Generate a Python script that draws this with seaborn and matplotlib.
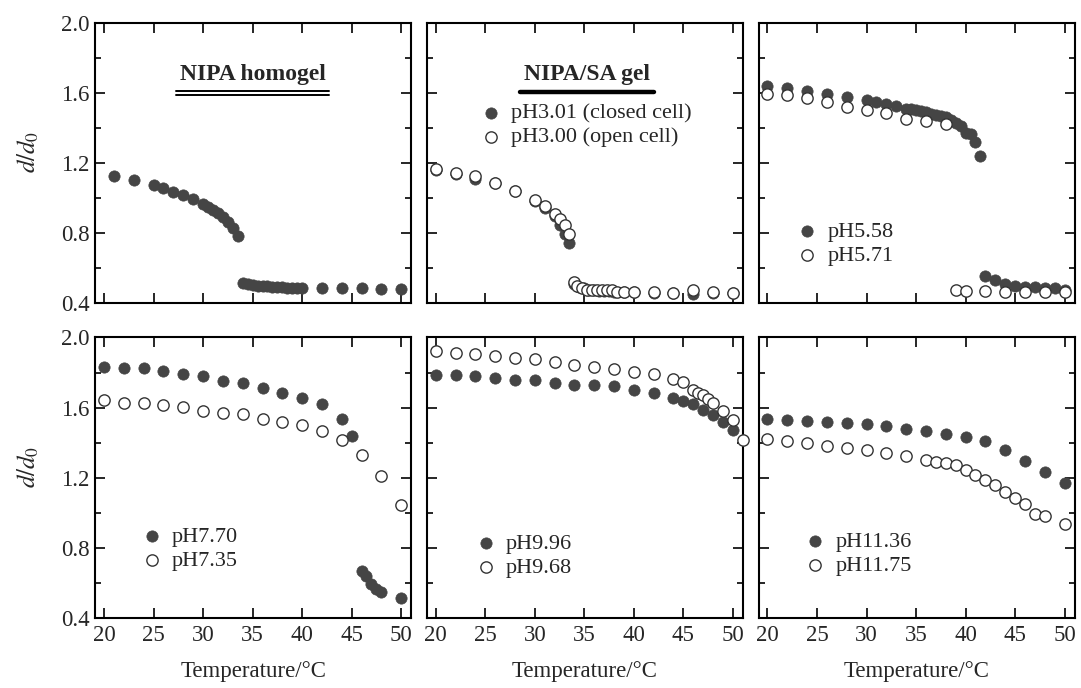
import matplotlib
matplotlib.use('Agg')
import matplotlib.pyplot as plt
import seaborn as sns
from matplotlib.ticker import MultipleLocator, FormatStrFormatter

# NIPA homogel
homo_T = [21, 23, 25, 26, 27, 28, 29, 30, 30.5, 31, 31.5, 32, 32.5, 33, 33.5,
          34, 34.5, 35, 35.5, 36, 36.5, 37, 37.5, 38, 38.5, 39, 39.5, 40,
          42, 44, 46, 48, 50]
homo_d = [1.126, 1.101, 1.072, 1.057, 1.034, 1.019, 0.992, 0.968,
          0.950, 0.932, 0.912, 0.890, 0.862, 0.830, 0.785,
          0.515, 0.508, 0.504, 0.500, 0.498, 0.496, 0.494, 0.492, 0.490, 0.489, 0.488, 0.487, 0.487,
          0.486, 0.485, 0.485, 0.484, 0.480]

# NIPA/SA gel, pH 3
ph301_T = [20, 22, 24, 26, 28, 30, 31, 32, 32.5, 33, 33.5,
           34, 34.5, 35, 35.5, 36, 36.5, 37, 37.5, 38,
           39, 40, 42, 44, 46, 48, 50]
ph301_d = [1.160, 1.135, 1.110, 1.085, 1.040, 0.983, 0.945, 0.895, 0.844, 0.796, 0.745,
           0.510, 0.495, 0.485, 0.478, 0.474, 0.472, 0.470, 0.468, 0.465,
           0.463, 0.462, 0.460, 0.458, 0.452, 0.458, 0.458]
ph300_T = [20, 22, 24, 26, 28, 30, 31, 32, 32.5, 33, 33.5,
           34, 34.25, 34.75, 35.25, 35.75, 36.25, 36.75, 37.25, 37.75, 38.25,
           39, 40, 42, 44, 46, 48, 50]
ph300_d = [1.168, 1.145, 1.126, 1.088, 1.040, 0.987, 0.952, 0.910, 0.880, 0.844, 0.796,
           0.520, 0.501, 0.488, 0.476, 0.473, 0.473, 0.476, 0.476, 0.473, 0.463,
           0.465, 0.465, 0.463, 0.457, 0.476, 0.463, 0.457]

# pH 5.6
ph558_T = [20, 22, 24, 26, 28, 30, 31, 32, 33, 34,
           34.5, 35, 35.5, 36, 36.5, 37, 37.5, 38, 38.5, 39, 39.5, 40, 40.5, 41, 41.5,
           42, 43, 44, 45, 46, 47, 48, 49, 50]
ph558_d = [1.640, 1.625, 1.610, 1.592, 1.577, 1.558, 1.550, 1.535, 1.526, 1.510,
           1.507, 1.500, 1.495, 1.488, 1.482, 1.476, 1.470, 1.460, 1.445, 1.430, 1.410, 1.370, 1.368, 1.320, 1.240,
           0.554, 0.533, 0.510, 0.500, 0.495, 0.495, 0.488, 0.486, 0.476]
ph571_T = [20, 22, 24, 26, 28, 30, 32, 34, 36, 38, 39, 40, 42, 44, 46, 48, 50]
ph571_d = [1.596, 1.587, 1.568, 1.545, 1.520, 1.500, 1.486, 1.453, 1.438, 1.421,
           0.476, 0.472, 0.469, 0.467, 0.463, 0.463, 0.463]

# pH 7.5
ph770_T = [20, 22, 24, 26, 28, 30, 32, 34, 36, 38, 40, 42, 44, 45,
           46, 46.5, 47, 47.5, 48, 50]
ph770_d = [1.832, 1.827, 1.827, 1.810, 1.794, 1.779, 1.752, 1.741, 1.714, 1.684, 1.657, 1.623, 1.537, 1.436,
           0.670, 0.642, 0.594, 0.566, 0.550, 0.514]
ph735_T = [20, 22, 24, 26, 28, 30, 32, 34, 36, 38, 40, 42, 44, 46, 48, 50]
ph735_d = [1.642, 1.629, 1.627, 1.617, 1.604, 1.581, 1.571, 1.562, 1.533, 1.518, 1.499, 1.467,
           1.417, 1.328, 1.210, 1.042]

# pH 9.8
ph996_T = [20, 22, 24, 26, 28, 30, 32, 34, 36, 38, 40, 42, 44, 45, 46, 47, 48, 49, 50]
ph996_d = [1.785, 1.785, 1.779, 1.771, 1.756, 1.756, 1.743, 1.731, 1.728, 1.722, 1.700, 1.686,
           1.657, 1.638, 1.619, 1.589, 1.560, 1.518, 1.470]
ph968_T = [20, 22, 24, 26, 28, 30, 32, 34, 36, 38, 40, 42, 44,
           45, 46, 46.5, 47, 47.5, 48, 49, 50, 51]
ph968_d = [1.922, 1.909, 1.903, 1.893, 1.884, 1.880, 1.861, 1.842, 1.829, 1.823, 1.804, 1.790, 1.762,
           1.747, 1.700, 1.686, 1.670, 1.651, 1.629, 1.579, 1.528, 1.413]

# pH 11.5
ph1136_T = [20, 22, 24, 26, 28, 30, 32, 34, 36, 38, 40, 42, 44, 46, 48, 50]
ph1136_d = [1.537, 1.528, 1.524, 1.518, 1.514, 1.505, 1.495, 1.476, 1.467, 1.451, 1.432, 1.408,
            1.360, 1.293, 1.232, 1.170]
ph1175_T = [20, 22, 24, 26, 28, 30, 32, 34, 36,
            37, 38, 39, 40, 41, 42, 43, 44, 45, 46, 47, 48, 50]
ph1175_d = [1.419, 1.408, 1.398, 1.381, 1.371, 1.356, 1.341, 1.324, 1.303,
            1.290, 1.286, 1.270, 1.242, 1.213, 1.185, 1.156, 1.118, 1.084, 1.048, 0.994, 0.981, 0.937]

sns.set_style('ticks')
plt.rcParams['font.family'] = ['Liberation Serif', 'DejaVu Serif']
plt.rcParams['mathtext.fontset'] = 'stix'

FILL = '#454545'
EDGE = '#333333'

fig, axes = plt.subplots(2, 3, figsize=(10.81, 6.88), dpi=100)
fig.subplots_adjust(left=0.088, right=0.994, top=0.967, bottom=0.1017,
                    wspace=0.05, hspace=0.122)

# (filled series, open series, legend anchor) per panel
panels = [
    ((homo_T, homo_d, None), None, None),
    ((ph301_T, ph301_d, 'pH3.01 (closed cell)'), (ph300_T, ph300_d, 'pH3.00 (open cell)'), (0.167, 0.714)),
    ((ph558_T, ph558_d, 'pH5.58'), (ph571_T, ph571_d, 'pH5.71'), (0.119, 0.292)),
    ((ph770_T, ph770_d, 'pH7.70'), (ph735_T, ph735_d, 'pH7.35'), (0.145, 0.327)),
    ((ph996_T, ph996_d, 'pH9.96'), (ph968_T, ph968_d, 'pH9.68'), (0.151, 0.302)),
    ((ph1136_T, ph1136_d, 'pH11.36'), (ph1175_T, ph1175_d, 'pH11.75'), (0.144, 0.310)),
]

for i, (ax, (filled, opened, anchor)) in enumerate(zip(axes.flat, panels)):
    sns.scatterplot(x=filled[0], y=filled[1], ax=ax, s=66, color=FILL, edgecolor=FILL,
                    linewidth=0.5, label=filled[2], clip_on=False, zorder=3)
    if opened is not None:
        sns.scatterplot(x=opened[0], y=opened[1], ax=ax, s=66, facecolor='white',
                        edgecolor=EDGE, linewidth=1.0, label=opened[2], clip_on=False, zorder=4)

    ax.set_xlim(19.1, 51.0)
    ax.set_ylim(0.4, 2.0)
    ax.xaxis.set_major_locator(MultipleLocator(5))
    ax.yaxis.set_major_locator(MultipleLocator(0.4))
    ax.yaxis.set_minor_locator(MultipleLocator(0.2))
    ax.yaxis.set_major_formatter(FormatStrFormatter('%.1f'))
    ax.tick_params(which='both', direction='in', top=True, right=True, width=1.4,
                   labelsize=16.5)
    ax.tick_params(which='major', length=7)
    ax.tick_params(which='minor', length=4)
    ax.tick_params(axis='x', pad=5)
    ax.tick_params(axis='y', pad=4)
    for sp in ax.spines.values():
        sp.set_linewidth(1.5)
        sp.set_color('black')

    row, col = divmod(i, 3)
    if col == 0:
        ax.set_ylabel('$d/d_0$', fontsize=18)
        ax.yaxis.set_label_coords(-0.17, 0.54)
    else:
        ax.tick_params(labelleft=False)
    if row == 1:
        ax.set_xlabel('Temperature/°C', fontsize=16.5, labelpad=11)
    else:
        ax.tick_params(labelbottom=False)

    if anchor is not None:
        ax.legend(loc='upper left', bbox_to_anchor=anchor, frameon=False, fontsize=16,
                  handlelength=1.0, handletextpad=0.4, labelspacing=0.15,
                  borderpad=0, borderaxespad=0)
    elif ax.get_legend() is not None:
        ax.get_legend().remove()

# panel headings
ax0, ax1 = axes[0, 0], axes[0, 1]
ax0.text(0.498, 0.815, 'NIPA homogel', transform=ax0.transAxes, ha='center', va='center',
         fontsize=17, fontweight='bold')
ax0.plot([0.2555, 0.741], [0.756, 0.756], transform=ax0.transAxes, color='black', lw=1.4)
ax0.plot([0.2555, 0.741], [0.743, 0.743], transform=ax0.transAxes, color='black', lw=1.4)
ax1.text(0.507, 0.815, 'NIPA/SA gel', transform=ax1.transAxes, ha='center', va='center',
         fontsize=17, fontweight='bold')
ax1.plot([0.2956, 0.718], [0.752, 0.752], transform=ax1.transAxes, color='black', lw=3.2)

plt.savefig('out.png', dpi=100)
